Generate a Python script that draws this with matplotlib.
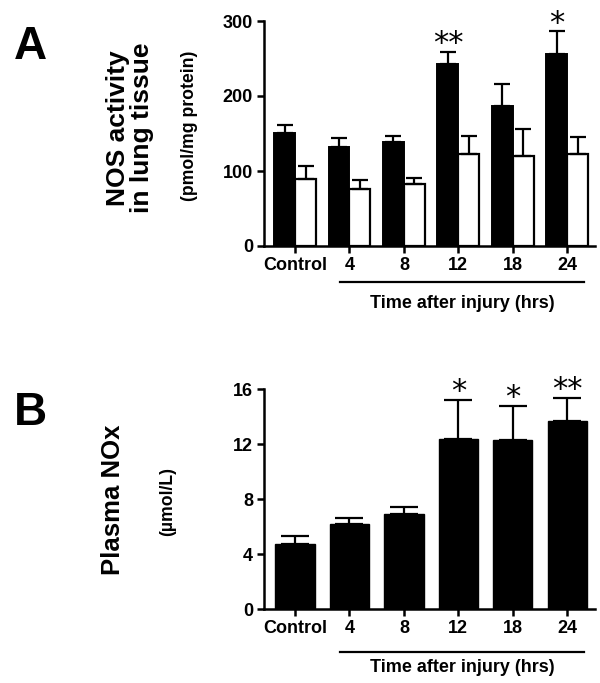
import numpy as np
import matplotlib.pyplot as plt

plt.rcParams['font.family'] = ['Liberation Sans', 'DejaVu Sans']
plt.rcParams['font.weight'] = 'bold'

# data
groups = ['Control', '4', '8', '12', '18', '24']

nos_black = [151, 132, 138, 242, 187, 256]
nos_black_err = [10, 12, 8, 17, 29, 30]
nos_white = [89, 76, 83, 123, 120, 122]
nos_white_err = [17, 12, 8, 23, 36, 23]
nos_stars = {3: '**', 5: '*'}

nox = [4.73, 6.2, 6.95, 12.4, 12.3, 13.7]
nox_err = [0.6, 0.45, 0.5, 2.8, 2.45, 1.65]
nox_stars = {3: '*', 4: '*', 5: '**'}

W, H = 600, 683
fig = plt.figure(figsize=(W / 100, H / 100), dpi=100)


def fx(px):
    return px / W


def fy(py):
    return 1 - py / H


def style_axes(ax):
    for s in ['top', 'right']:
        ax.spines[s].set_visible(False)
    for s in ['left', 'bottom']:
        ax.spines[s].set_linewidth(1.8)
    ax.tick_params(width=1.8, length=5, labelsize=13, pad=3)
    ax.set_xticks(np.arange(len(groups)))
    ax.set_xticklabels(groups, fontweight='bold')
    for lab in ax.get_yticklabels():
        lab.set_fontweight('bold')
    ax.set_xlim(-0.57, 5.51)


def group_line(ax, ypix_line, ypix_text):
    fig.add_artist(plt.Line2D([fx(340), fx(584)], [fy(ypix_line)] * 2,
                              color='black', lw=1.6))
    fig.text(fx(462), fy(ypix_text), 'Time after injury (hrs)', ha='center',
             va='center', fontsize=13, fontweight='bold')


def add_stars(ax, xs, tops, stars):
    for i, s in stars.items():
        ax.annotate(s, (xs[i], tops[i]), xytext=(0, 0), textcoords='offset points',
                    ha='center', va='baseline', fontsize=22,
                    family='DejaVu Sans', fontweight='normal')


x = np.arange(len(groups))

# Panel A
axA = fig.add_axes([fx(264), fy(246), fx(595) - fx(264), fy(21) - fy(246)])
w = 0.385
ekw = dict(ecolor='black', elinewidth=1.6, capthick=1.6)
axA.bar(x - w / 2, nos_black, w, color='black', edgecolor='black', lw=1.4,
        yerr=[[0] * 6, nos_black_err], capsize=6, error_kw=ekw)
axA.bar(x + w / 2, nos_white, w, color='white', edgecolor='black', lw=1.6,
        yerr=[[0] * 6, nos_white_err], capsize=6, error_kw=ekw)
axA.set_ylim(0, 300)
axA.set_yticks([0, 100, 200, 300])
style_axes(axA)
add_stars(axA, x - w / 2, np.array(nos_black) + np.array(nos_black_err), nos_stars)
group_line(axA, 282, 303)

fig.text(fx(30), fy(47), 'A', fontsize=33, fontweight='bold', ha='center', va='center')
fig.text(fx(130), fy(128), 'NOS activity\nin lung tissue', rotation=90, fontsize=19,
         fontweight='bold', ha='center', va='center', multialignment='center',
         linespacing=1.05)
fig.text(fx(190), fy(126), '(pmol/mg protein)', rotation=90, fontsize=12.7,
         fontweight='bold', ha='center', va='center')

# Panel B
axB = fig.add_axes([fx(264), fy(609.3), fx(595) - fx(264), fy(389.3) - fy(609.3)])
axB.bar(x, nox, 0.72, color='black', edgecolor='black',
        yerr=[[0] * 6, nox_err], capsize=10, error_kw=ekw)
axB.set_ylim(0, 16)
axB.set_yticks([0, 4, 8, 12, 16])
style_axes(axB)
add_stars(axB, x, np.array(nox) + np.array(nox_err), nox_stars)
group_line(axB, 651.7, 668)

fig.text(fx(30), fy(413), 'B', fontsize=33, fontweight='bold', ha='center', va='center')
fig.text(fx(113), fy(500), 'Plasma NOx', rotation=90, fontsize=18.5,
         fontweight='bold', ha='center', va='center')
fig.text(fx(168), fy(501), '(µmol/L)', rotation=90, fontsize=12.7,
         fontweight='bold', ha='center', va='center')

fig.savefig('out.png', dpi=100)
